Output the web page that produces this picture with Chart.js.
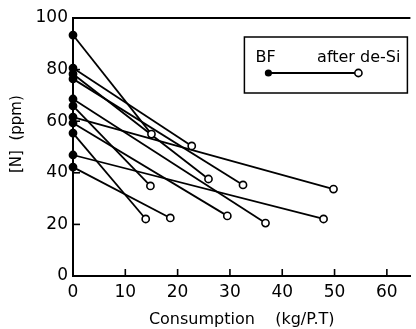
<!DOCTYPE html>
<html>
<head>
<meta charset="utf-8">
<script src="https://cdn.jsdelivr.net/npm/chart.js@4/dist/chart.umd.min.js"></script>
<style>
  html, body { margin: 0; padding: 0; background: #fff; }
  #wrap { width: 416px; height: 329px; position: relative; }
</style>
</head>
<body>
<div id="wrap"><canvas id="c" width="416" height="329"></canvas></div>
<script>
// Blast-furnace (BF) hot metal [N] vs. after de-Si treatment
const bfConsumption    = [0, 0, 0, 0, 0, 0, 0, 0, 0, 0, 0];
const bfN              = [93.4, 80.6, 78.3, 76.4, 68.6, 65.9, 61.6, 59.3, 55.4, 46.9, 42.2];
const afterConsumption = [15.0, 22.7, 25.9, 32.5, 36.8, 14.8, 49.8, 29.5, 13.9, 47.9, 18.6];
const afterN           = [55.0, 50.4, 37.6, 35.3, 20.5, 34.9, 33.7, 23.3, 22.1, 22.1, 22.5];

const xTicks = [0, 10, 20, 30, 40, 50, 60];
const yTicks = [0, 20, 40, 60, 80, 100];

const legendStart = 'BF';
const legendEnd = 'after de-Si';
const xTitle = 'Consumption    (kg/P.T)';
const yTitle = '[N]  (ppm)';

const FONT = 'DejaVu Sans';

const datasets = bfN.map((v, i) => ({
  data: [{x: bfConsumption[i], y: v}, {x: afterConsumption[i], y: afterN[i]}],
  borderColor: '#000',
  borderWidth: 1.8,
  pointRadius: 3.6,
  pointBorderWidth: 1.6,
  pointBorderColor: '#000',
  pointBackgroundColor: ['#000', '#fff'],
  showLine: true,
  clip: false
}));

const framePlugin = {
  id: 'frame',
  afterDraw(chart) {
    const {ctx, chartArea: a, scales: {x, y}} = chart;
    ctx.save();
    ctx.strokeStyle = '#000';
    ctx.lineWidth = 2;
    // top frame line
    ctx.beginPath();
    ctx.moveTo(a.left, a.top);
    ctx.lineTo(a.right, a.top);
    ctx.stroke();
    // inward tick marks
    ctx.lineWidth = 1.6;
    const tl = 7;
    xTicks.forEach(t => {
      if (t === 0) return;
      const px = x.getPixelForValue(t);
      ctx.beginPath(); ctx.moveTo(px, a.bottom); ctx.lineTo(px, a.bottom - tl); ctx.stroke();
    });
    yTicks.forEach(t => {
      if (t === 0 || t === 100) return;
      const py = y.getPixelForValue(t);
      ctx.beginPath(); ctx.moveTo(a.left, py); ctx.lineTo(a.left + tl, py); ctx.stroke();
    });
    // y title
    ctx.fillStyle = '#000';
    ctx.font = '15px "' + FONT + '"';
    ctx.textAlign = 'center';
    ctx.textBaseline = 'middle';
    ctx.translate(17, y.getPixelForValue(55));
    ctx.rotate(-Math.PI / 2);
    ctx.fillText(yTitle, 0, 0);
    ctx.restore();

    // legend box
    ctx.save();
    const bx = a.right - 166, by = a.top + 19, bw = 163, bh = 56;
    ctx.strokeStyle = '#000';
    ctx.lineWidth = 1.5;
    ctx.strokeRect(bx, by, bw, bh);
    ctx.fillStyle = '#000';
    ctx.font = '16px "' + FONT + '"';
    ctx.textBaseline = 'middle';
    ctx.textAlign = 'left';
    ctx.fillText(legendStart, bx + 11, by + 21);
    ctx.textAlign = 'right';
    ctx.fillText(legendEnd, bx + bw - 7, by + 21);
    const ly = by + 36;
    const lx1 = bx + 24, lx2 = bx + 114;
    ctx.lineWidth = 1.8;
    ctx.beginPath(); ctx.moveTo(lx1, ly); ctx.lineTo(lx2, ly); ctx.stroke();
    ctx.beginPath(); ctx.arc(lx1, ly, 3.6, 0, Math.PI * 2); ctx.fill();
    ctx.beginPath(); ctx.arc(lx2, ly, 3.6, 0, Math.PI * 2);
    ctx.fillStyle = '#fff'; ctx.fill(); ctx.lineWidth = 1.6; ctx.stroke();
    ctx.restore();
  }
};

new Chart(document.getElementById('c'), {
  type: 'scatter',
  data: { datasets },
  options: {
    responsive: false,
    animation: false,
    devicePixelRatio: 1,
    layout: { padding: { top: 18, right: 0, left: 0, bottom: 0 } },
    plugins: { legend: { display: false }, tooltip: { enabled: false } },
    scales: {
      x: {
        type: 'linear',
        min: 0,
        max: 64.5,
        afterBuildTicks: s => { s.ticks = xTicks.map(v => ({value: v})); },
        afterFit: s => { s.height = 53; },
        grid: { display: false, drawTicks: false },
        border: { display: true, color: '#000', width: 2 },
        ticks: { color: '#000', font: { family: FONT, size: 17 }, padding: 6, maxRotation: 0, autoSkip: false },
        title: { display: true, text: xTitle, color: '#000', font: { family: FONT, size: 16 }, padding: { top: 0, bottom: 0 } }
      },
      y: {
        type: 'linear',
        min: 0,
        max: 100,
        afterBuildTicks: s => { s.ticks = yTicks.map(v => ({value: v})); },
        afterFit: s => { s.width = 73; },
        grid: { display: false, drawTicks: false },
        border: { display: true, color: '#000', width: 2 },
        ticks: { color: '#000', font: { family: FONT, size: 17 }, padding: 5 }
      }
    }
  },
  plugins: [framePlugin]
});
</script>
</body>
</html>
